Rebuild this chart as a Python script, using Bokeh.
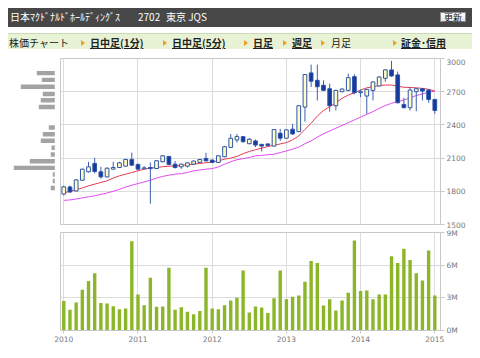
from bokeh.plotting import figure
from bokeh.layouts import column, row
from bokeh.models import Range1d, FixedTicker, ColumnDataSource, Div
from bokeh.embed import file_html
from bokeh.resources import INLINE

# ---------------- data ----------------
# monthly bars, index 0 = 2010-01 ... 60 = 2015-01
month_index = list(range(61))
year_ticks = [0, 12, 24, 36, 48, 60]
year_labels = ["2010", "2011", "2012", "2013", "2014", "2015"]

open_px = [1775, 1839, 1803, 1900, 1976, 2052, 1976, 1930, 2000, 2015, 2027, 2088,
           2043, 2003, 2015, 2006, 2067, 2115, 2045, 2021, 2027, 2045, 2061, 2097,
           2082, 2061, 2112, 2197, 2264, 2294, 2230, 2255, 2224, 2228, 2209, 2325,
           2280, 2361, 2339, 2561, 2870, 2803, 2758, 2727, 2573, 2700, 2712, 2836,
           2691, 2661, 2712, 2752, 2821, 2897, 2852, 2585, 2555, 2700, 2727, 2715,
           2630]
close_px = [1840, 1794, 1903, 2000, 2021, 1979, 1930, 2009, 2015, 2057, 2088, 2036,
            2000, 2012, 2005, 2076, 2121, 2043, 2015, 2045, 2057, 2073, 2088, 2075,
            2061, 2121, 2203, 2279, 2294, 2248, 2270, 2218, 2209, 2214, 2358, 2280,
            2355, 2318, 2573, 2855, 2795, 2745, 2712, 2573, 2712, 2724, 2827, 2691,
            2700, 2721, 2788, 2833, 2897, 2842, 2600, 2555, 2715, 2727, 2706, 2630,
            2530]
high_px = [1850, 1852, 1910, 2005, 2067, 2103, 2021, 2015, 2067, 2067, 2092, 2150,
           2050, 2027, 2060, 2080, 2125, 2120, 2073, 2050, 2060, 2078, 2092, 2148,
           2088, 2125, 2210, 2318, 2318, 2300, 2282, 2268, 2230, 2232, 2362, 2364,
           2360, 2409, 2580, 2860, 2945, 2945, 2803, 2773, 2718, 2730, 2864, 2858,
           2720, 2725, 2792, 2838, 2902, 2979, 2882, 2645, 2743, 2732, 2730, 2720,
           2635]
low_px = [1765, 1785, 1800, 1895, 1970, 1961, 1915, 1925, 1997, 2012, 2025, 2030,
          1995, 2000, 1688, 2003, 2062, 2035, 2006, 2003, 2015, 2040, 2055, 2070,
          2055, 2055, 2108, 2192, 2240, 2240, 2225, 2200, 2160, 2208, 2205, 2255,
          2275, 2310, 2335, 2430, 2743, 2621, 2705, 2521, 2530, 2695, 2705, 2676,
          2650, 2500, 2621, 2748, 2790, 2835, 2595, 2550, 2530, 2524, 2621, 2600,
          2500]

ma_short = [1785, 1800, 1815, 1830, 1850, 1865, 1880, 1895, 1920, 1940, 1955, 1970,
            1985, 2000, 2010, 2015, 2022, 2027, 2030, 2033, 2040, 2045, 2052, 2058,
            2065, 2075, 2090, 2100, 2115, 2140, 2160, 2175, 2190, 2205, 2215, 2228,
            2240, 2265, 2300, 2360, 2415, 2480, 2530, 2565, 2600, 2640, 2670, 2690,
            2715, 2735, 2745, 2755, 2760, 2760, 2750, 2740, 2738, 2735, 2730, 2722,
            2706]
ma_long = [1718, 1722, 1730, 1740, 1750, 1760, 1772, 1785, 1800, 1818, 1838, 1855,
           1870, 1885, 1900, 1920, 1935, 1945, 1955, 1960, 1970, 1985, 1992, 2000,
           2005, 2020, 2045, 2067, 2085, 2095, 2105, 2120, 2125, 2130, 2135, 2150,
           2165, 2180, 2200, 2230, 2255, 2290, 2320, 2345, 2370, 2395, 2420, 2445,
           2470, 2495, 2520, 2550, 2575, 2595, 2610, 2625, 2645, 2665, 2680, 2695,
           2706]

volume_m = [2.70, 1.90, 2.58, 3.74, 4.54, 5.26, 2.52, 2.47, 2.23, 1.96, 2.02, 8.20,
            3.30, 2.32, 4.84, 2.17, 2.20, 5.76, 1.90, 2.14, 1.72, 1.49, 1.78, 5.76,
            2.02, 1.96, 2.32, 2.76, 3.00, 5.52, 1.66, 2.20, 2.11, 1.60, 2.97, 5.52,
            2.88, 3.09, 3.21, 4.48, 6.39, 6.21, 2.29, 2.88, 1.84, 2.76, 3.47, 8.26,
            3.62, 3.68, 2.88, 3.30, 3.30, 6.83, 6.21, 7.51, 6.47, 5.26, 4.60, 7.34,
            3.21]

# volume by price band (left histogram)
band_price = [1830, 1893, 1952, 2012, 2071, 2132, 2193, 2257, 2316, 2376, 2441, 2502,
              2561, 2623, 2680, 2744, 2807, 2868]
band_volume = [4, 2, 2, 41, 25, 4, 3.3, 14, 12, 6, 0, 0, 16, 14, 12, 34, 13, 18]

price_ticks = [1500, 1800, 2100, 2400, 2700, 3000]
vol_ticks = [0, 3, 6, 9]
vol_labels = ["0M", "3M", "6M", "9M"]

title_name = "日本ﾏｸﾄﾞﾅﾙﾄﾞﾎｰﾙﾃﾞｨﾝｸﾞｽ"
title_code = "2702"
title_market = "東京 JQS"
nav_items = ["日中足(1分)", "日中足(5分)", "日足", "週足", "月足", "証金･信用"]

# ---------------- styles ----------------
GRID = "#dcdcdc"
FRAME = "#c8c8c8"
LABEL = "#777777"
AXFONT = "DejaVu Sans"
AXSIZE = "7.5px"

up = [c >= o for o, c in zip(open_px, close_px)]
src = ColumnDataSource(dict(
    x=month_index, open=open_px, close=close_px, high=high_px, low=low_px,
    top=[max(o, c) for o, c in zip(open_px, close_px)],
    bottom=[min(o, c) for o, c in zip(open_px, close_px)],
    fill=["#ffffc4" if u else "#15399b" for u in up],
))

# ---------------- header (HTML) ----------------
nav_x = [82, 164, 245, 284, 323, 393]
nav_bold = [True, True, True, True, False, True]
tri_x = [73, 155, 236, 275, 313, 385]

def span(left, top, lh, txt, extra=""):
    return (f'<span style="position:absolute;left:{left}px;top:{top}px;line-height:{lh}px;'
            f'white-space:nowrap;{extra}">{txt}</span>')

parts = ['<div style="position:relative;width:464px;height:50px;'
         'font-family:\'Noto Sans CJK JP\';font-size:10px;color:#222;">',
         '<div style="position:absolute;left:0;top:0;width:464px;height:19px;background:#474747;"></div>',
         span(2, 0, 18, title_name, "color:#fff;"),
         span(130, 0, 18, title_code, "color:#fff;"),
         span(158, 0, 18, title_market, "color:#fff;"),
         '<div style="position:absolute;left:432px;top:4px;width:26px;height:10px;'
         'border:1px solid #8a8a8a;background:linear-gradient(#ffffff,#e4e4e4);'
         'font-size:9px;line-height:10px;text-align:center;color:#111;">更新</div>',
         '<div style="position:absolute;left:0;top:25px;width:464px;height:16px;'
         'background:#e8f2d5;border-top:1px solid #cbd9b6;"></div>',
         span(1, 25, 19, "株価チャート")]
for x, t, b in zip(nav_x, nav_items, nav_bold):
    style = "font-weight:bold;text-decoration:underline;" if b else ""
    parts.append(span(x, 25, 19, t, style))
for x in tri_x:
    parts.append(f'<div style="position:absolute;left:{x}px;top:32px;width:0;height:0;'
                 'border-left:4px solid #f0a020;border-top:3px solid transparent;'
                 'border-bottom:3px solid transparent;"></div>')
parts.append('</div>')
header = Div(text="".join(parts), width=464, height=50, margin=(0, 0, 0, 0))

# ---------------- price ----------------
xr = Range1d(-0.53, 60.92)
price = figure(frame_width=380, frame_height=166, x_range=xr, y_range=Range1d(1500, 3000),
               x_axis_location=None, y_axis_location="right", toolbar_location=None,
               output_backend="svg", min_border_left=0, min_border_right=32,
               min_border_top=0, min_border_bottom=4, outline_line_color=FRAME)
price.xgrid.ticker = FixedTicker(ticks=year_ticks)
price.yaxis.ticker = FixedTicker(ticks=price_ticks)
price.grid.grid_line_color = GRID
ax = price.yaxis[0]
ax.axis_line_color = FRAME
ax.major_tick_line_color = FRAME
ax.major_tick_out = 4
ax.major_tick_in = 0
ax.minor_tick_line_color = None
ax.major_label_standoff = 2
ax.major_label_text_color = LABEL
ax.major_label_text_font = AXFONT
ax.major_label_text_font_size = AXSIZE

price.line(month_index, ma_long, line_color="#e04cf0", line_width=1)
price.line(month_index, ma_short, line_color="#e63c55", line_width=1)
price.segment(x0="x", y0="high", x1="x", y1="low", source=src, line_color="#3d5fb0", line_width=1)
price.vbar(x="x", width=0.6, top="top", bottom="bottom", source=src, fill_color="fill",
           line_color="#2f55aa", line_width=1)

# ---------------- left histogram ----------------
hist = figure(frame_width=52, frame_height=166, x_range=Range1d(46.3, -5.7),
              y_range=price.y_range, x_axis_location=None, y_axis_location=None,
              toolbar_location=None, output_backend="svg", min_border_left=0,
              min_border_right=0, min_border_top=0, min_border_bottom=4,
              outline_line_color=None)
hist.grid.visible = False
hist.hbar(y=band_price, height=40, left=0, right=band_volume, fill_color="#a3a3a3",
          line_color=None)

# ---------------- volume ----------------
vol = figure(frame_width=380, frame_height=98, x_range=xr, y_range=Range1d(0, 9),
             x_axis_location="below", y_axis_location="right", toolbar_location=None,
             output_backend="svg", min_border_left=52, min_border_right=32,
             min_border_top=4, min_border_bottom=16, outline_line_color=FRAME)
vol.xaxis.ticker = FixedTicker(ticks=year_ticks)
vol.xaxis.major_label_overrides = {t: l for t, l in zip(year_ticks, year_labels)}
vol.yaxis.ticker = FixedTicker(ticks=vol_ticks)
vol.yaxis.major_label_overrides = {t: l for t, l in zip(vol_ticks, vol_labels)}
vol.grid.grid_line_color = GRID
for a, tout in ((vol.xaxis[0], 3), (vol.yaxis[0], 4)):
    a.axis_line_color = FRAME
    a.major_tick_line_color = FRAME
    a.major_tick_out = tout
    a.major_tick_in = 0
    a.minor_tick_line_color = None
    a.major_label_standoff = 2
    a.major_label_text_color = LABEL
    a.major_label_text_font = AXFONT
    a.major_label_text_font_size = AXSIZE
vol.vbar(x=month_index, width=0.55, top=volume_m, bottom=0, fill_color="#8bb62a",
         line_color=None)

layout = column(header, row(hist, price), vol, margin=(8, 0, 0, 8))
open("out.html", "w").write(file_html(layout, INLINE))
